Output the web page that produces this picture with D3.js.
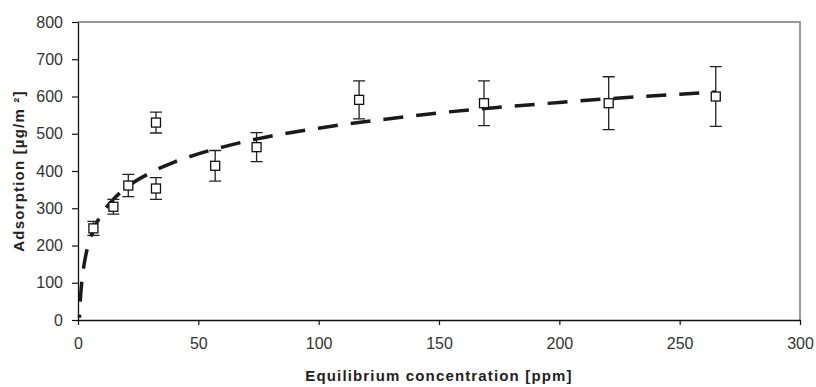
<!DOCTYPE html>
<html>
<head>
<meta charset="utf-8">
<script src="https://cdn.jsdelivr.net/npm/d3@7"></script>
<style>
  body { margin: 0; background: #fff; }
  svg { display: block; font-family: "Liberation Sans", Arial, sans-serif; }
</style>
</head>
<body>
<div id="chart"></div>
<script>
// measured points (ppm, µg/m², error)
const concentration = [6.4, 14.7, 20.9, 32.4, 32.4, 57, 74.2, 116.8, 168.7, 220.5, 265];
const adsorption    = [246, 304, 361, 530, 353, 414, 464, 591, 582, 582, 600];
const errors        = [19, 20, 30, 28, 29, 41, 39, 51, 60, 71, 80];

// fitted trendline
const fitX = [0.6, 0.8, 1, 1.5, 2, 3, 5, 7, 10, 15, 20, 30, 40, 50, 60, 75, 100, 125, 150, 175, 200, 225, 250, 265];
const fitY = [6, 35, 57, 97, 126, 166, 217, 251, 286, 326, 355, 395, 424, 446, 464, 487, 515, 537, 556, 571, 584, 596, 606, 612];

const xTicks = [0, 50, 100, 150, 200, 250, 300];
const yTicks = [0, 100, 200, 300, 400, 500, 600, 700, 800];

const width = 816, height = 387;
const margin = {top: 22, right: 16, bottom: 67, left: 78};

const svg = d3.select("#chart").append("svg")
    .attr("width", width)
    .attr("height", height);

const x = d3.scaleLinear().domain([0, 300]).range([margin.left, width - margin.right]);
const y = d3.scaleLinear().domain([0, 800]).range([height - margin.bottom, margin.top]);

// grey frame on top and right
svg.append("path")
    .attr("d", `M${x(0)},${y(800)}H${x(300)}V${y(0)}`)
    .attr("fill", "none")
    .attr("stroke", "#9a9a9a")
    .attr("stroke-width", 2);

// axes
const xAxis = svg.append("g")
    .attr("transform", `translate(0,${y(0)})`)
    .call(d3.axisBottom(x).tickValues(xTicks).tickSize(5).tickSizeOuter(0).tickPadding(13));
const yAxis = svg.append("g")
    .attr("transform", `translate(${x(0)},0)`)
    .call(d3.axisLeft(y).tickValues(yTicks).tickSize(6).tickSizeOuter(0).tickPadding(9));

[xAxis, yAxis].forEach(g => {
    g.select(".domain").attr("stroke", "#111").attr("stroke-width", 1.3);
    g.selectAll(".tick line").attr("stroke", "#111").attr("stroke-width", 1.2);
    g.selectAll(".tick text")
        .attr("fill", "#333")
        .style("font-size", "16px")
        .style("font-family", "Liberation Sans, Arial, sans-serif");
});

// trendline
const fit = fitX.map((v, i) => [v, fitY[i]]);
const line = d3.line()
    .x(d => x(d[0]))
    .y(d => y(d[1]))
    .curve(d3.curveMonotoneX);

svg.append("path")
    .datum(fit)
    .attr("d", line)
    .attr("fill", "none")
    .attr("stroke", "#1a1a1a")
    .attr("stroke-width", 3.5)
    .attr("stroke-dasharray", "20,13")
    .attr("stroke-dashoffset", 17);

// error bars
const pts = concentration.map((c, i) => ({x: c, y: adsorption[i], e: errors[i]}));
const bars = svg.append("g")
    .attr("stroke", "#222")
    .attr("stroke-width", 1.3)
    .attr("fill", "none");

bars.selectAll("path")
    .data(pts)
    .enter().append("path")
    .attr("d", d => {
        const cx = x(d.x), t = y(d.y + d.e), b = y(d.y - d.e);
        return `M${cx - 6},${t}H${cx + 6}M${cx},${t}V${b}M${cx - 6},${b}H${cx + 6}`;
    });

// markers
svg.append("g").selectAll("rect")
    .data(pts)
    .enter().append("rect")
    .attr("x", d => x(d.x) - 4.5)
    .attr("y", d => y(d.y) - 4.5)
    .attr("width", 9)
    .attr("height", 9)
    .attr("fill", "#fff")
    .attr("stroke", "#111")
    .attr("stroke-width", 1.3);

// axis titles
svg.append("text")
    .attr("x", (x(0) + x(300)) / 2)
    .attr("y", 381)
    .attr("text-anchor", "middle")
    .attr("fill", "#222")
    .style("font-size", "15px")
    .style("font-weight", "bold")
    .style("letter-spacing", "1.15px")
    .text("Equilibrium concentration [ppm]");

svg.append("text")
    .attr("transform", `translate(24,${(y(0) + y(800)) / 2}) rotate(-90)`)
    .attr("text-anchor", "middle")
    .attr("fill", "#222")
    .style("font-size", "15px")
    .style("font-weight", "bold")
    .style("letter-spacing", "1.2px")
    .text("Adsorption [µg/m ²]");
</script>
</body>
</html>
